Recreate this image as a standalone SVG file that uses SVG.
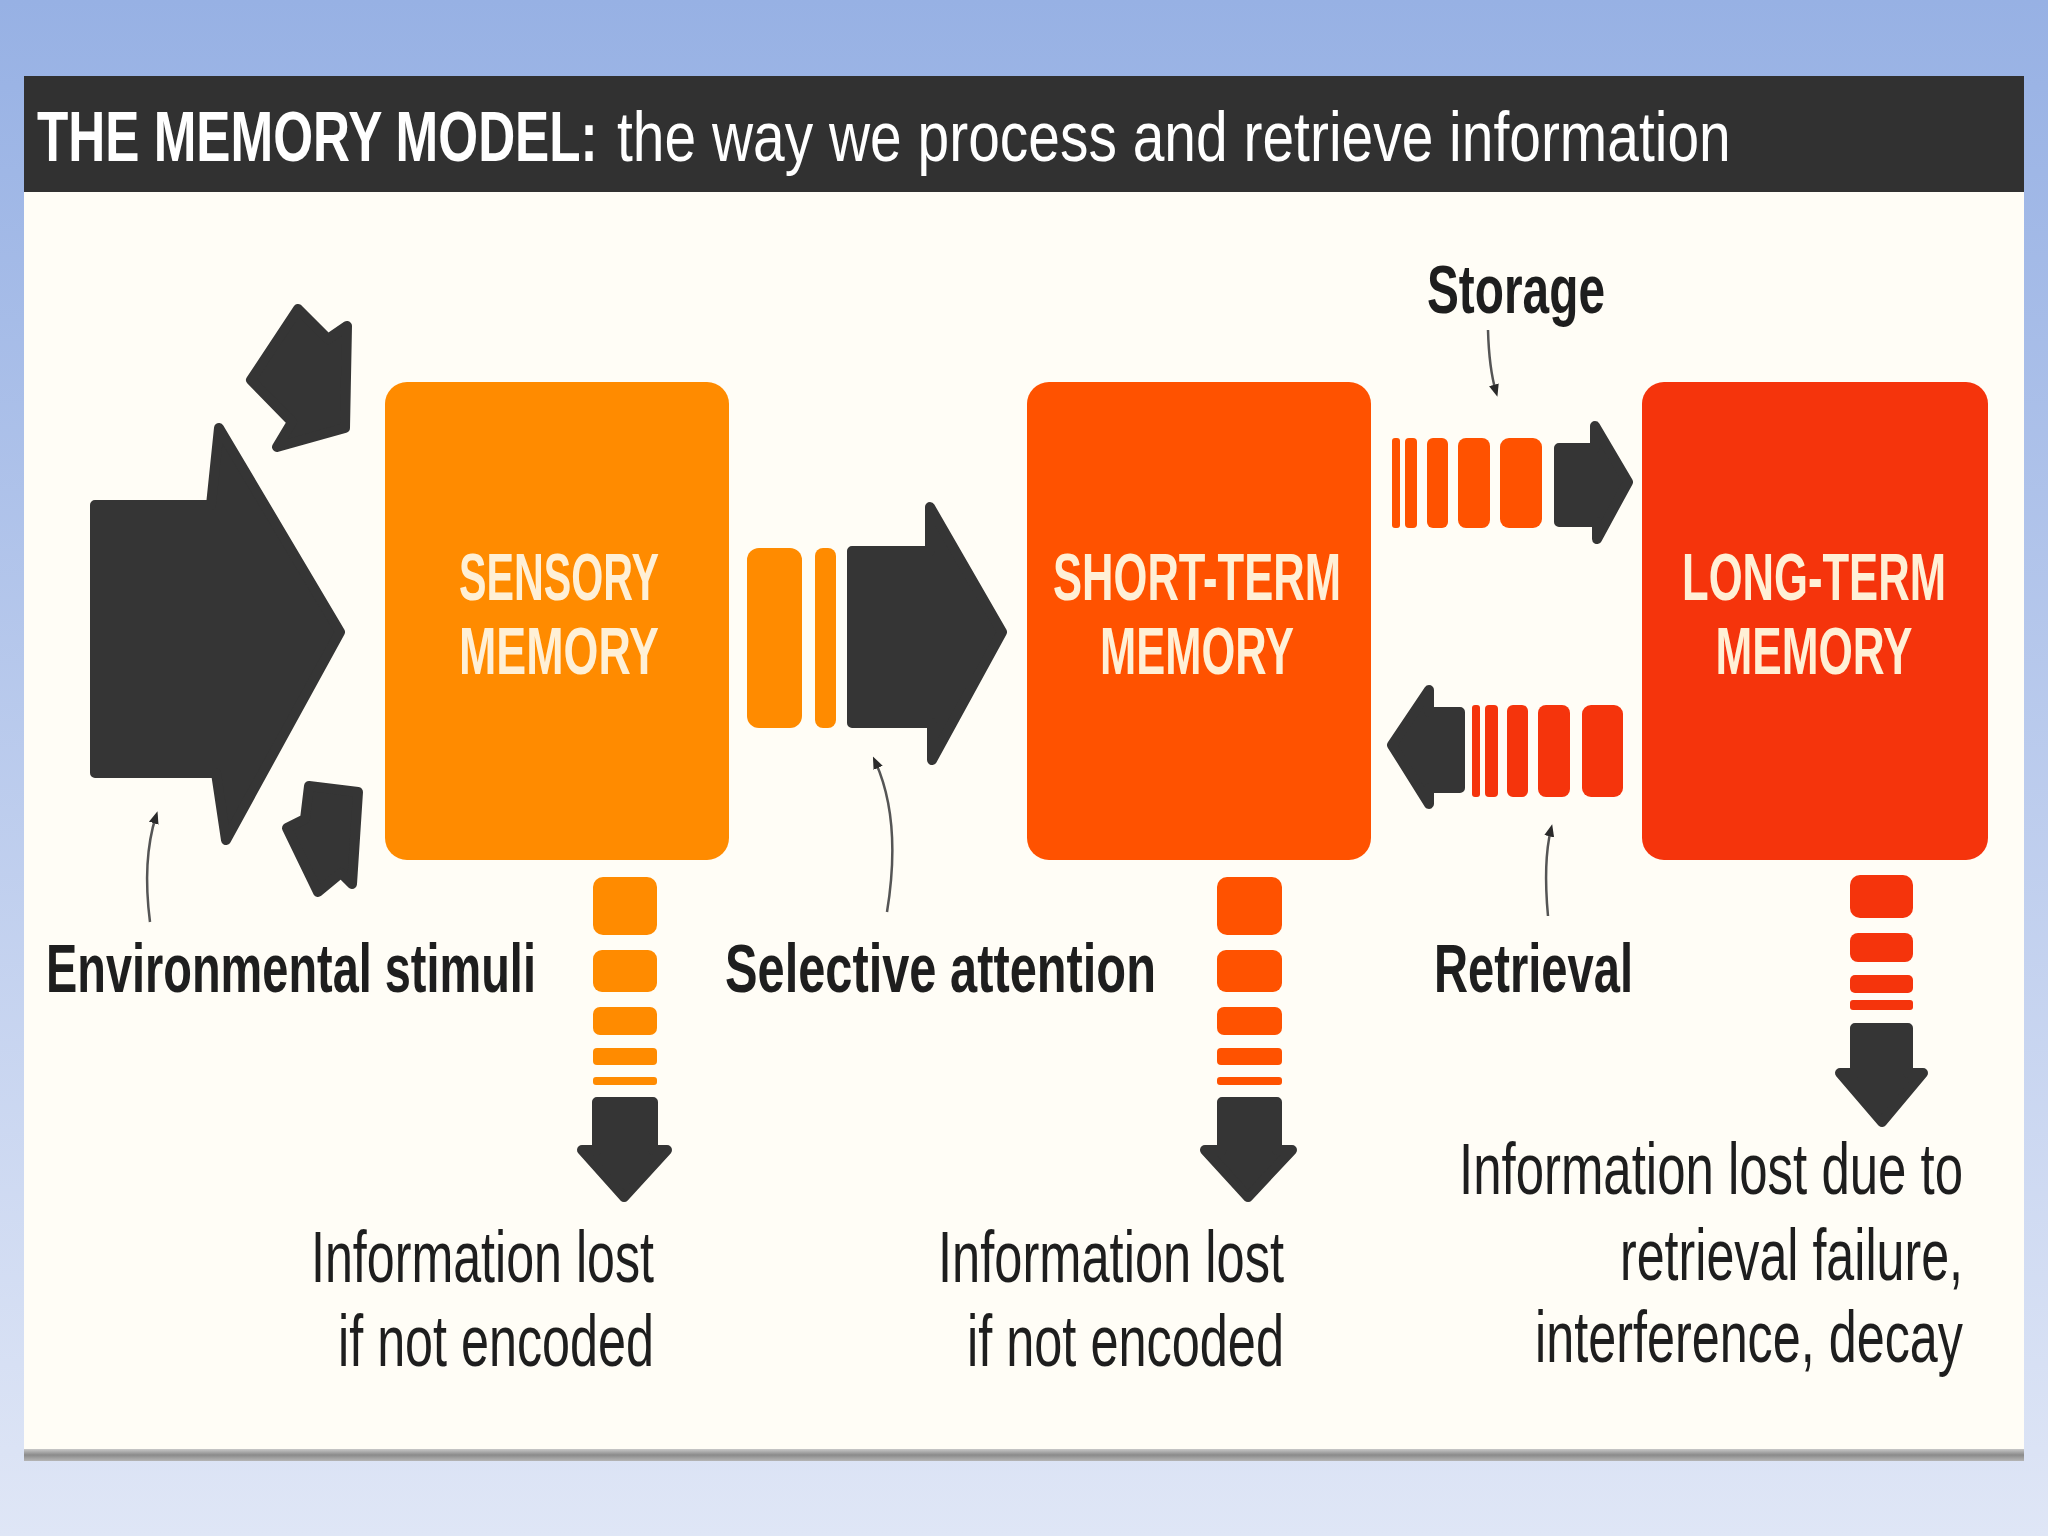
<svg xmlns="http://www.w3.org/2000/svg" width="2048" height="1536" viewBox="0 0 2048 1536">
  <defs>
    <linearGradient id="bg" x1="0" y1="0" x2="0" y2="1">
      <stop offset="0" stop-color="#97b1e4"/>
      <stop offset="1" stop-color="#dfe6f6"/>
    </linearGradient>
    <linearGradient id="rule" x1="0" y1="0" x2="0" y2="1">
      <stop offset="0" stop-color="#c8c8c8"/>
      <stop offset="0.5" stop-color="#8a8a8a"/>
      <stop offset="1" stop-color="#b5b5b5"/>
    </linearGradient>
    <marker id="tip" viewBox="0 0 10 10" refX="6" refY="5" markerWidth="5" markerHeight="5" orient="auto" markerUnits="strokeWidth">
      <path d="M0,1 L10,5 L0,9 Z" fill="#2a2a2a"/>
    </marker>
    <style>
      .dark { fill: #353535; stroke: #353535; stroke-width: 10; stroke-linejoin: round; }
      .org { fill: #ff8b00; }
      .stm { fill: #ff5200; }
      .ltm { fill: #f5340c; }
      .boxtxt { font-family: "Liberation Sans", Arial, sans-serif; font-weight: bold; font-size: 66px; fill: #fff0d6; text-anchor: middle; }
      .lbl { font-family: "Liberation Sans", Arial, sans-serif; font-weight: bold; font-size: 68px; fill: #1e1e1e; }
      .info { font-family: "Liberation Sans", Arial, sans-serif; font-size: 72px; fill: #1e1e1e; text-anchor: end; }
      .title { font-family: "Liberation Sans", Arial, sans-serif; font-size: 70px; fill: #ffffff; }
      .ptr { fill: none; stroke: #555555; stroke-width: 2.5; marker-end: url(#tip); }
    </style>
  </defs>

  <rect x="0" y="0" width="2048" height="1536" fill="url(#bg)"/>

  <g id="panel">
    <rect x="24" y="76" width="2000" height="1384" fill="#fffdf6"/>
    <rect x="24" y="76" width="2000" height="116" fill="#313131"/>
    <rect x="24" y="1449" width="2000" height="12" fill="url(#rule)"/>
    <text class="title" transform="scale(0.73,1)" x="50.7" y="161" font-weight="bold" textLength="768" lengthAdjust="spacingAndGlyphs">THE MEMORY MODEL:</text>
    <text class="title" transform="scale(0.81,1)" x="761.7" y="161" textLength="1375" lengthAdjust="spacingAndGlyphs">the way we process and retrieve information</text>
  </g>

  <g id="sensory-memory">
    <rect class="org" x="385" y="382" width="344" height="478" rx="22"/>
    <text class="boxtxt" transform="scale(0.64,1)" x="873.4" y="600" textLength="312.5" lengthAdjust="spacingAndGlyphs">SENSORY</text>
    <text class="boxtxt" transform="scale(0.64,1)" x="873.4" y="674" textLength="312.5" lengthAdjust="spacingAndGlyphs">MEMORY</text>
  </g>

  <g id="short-term-memory">
    <rect class="stm" x="1027" y="382" width="344" height="478" rx="22"/>
    <text class="boxtxt" transform="scale(0.64,1)" x="1870.3" y="600" textLength="450" lengthAdjust="spacingAndGlyphs">SHORT-TERM</text>
    <text class="boxtxt" transform="scale(0.64,1)" x="1870.3" y="674" textLength="303" lengthAdjust="spacingAndGlyphs">MEMORY</text>
  </g>

  <g id="long-term-memory">
    <rect class="ltm" x="1642" y="382" width="346" height="478" rx="22"/>
    <text class="boxtxt" transform="scale(0.64,1)" x="2834.4" y="600" textLength="412.5" lengthAdjust="spacingAndGlyphs">LONG-TERM</text>
    <text class="boxtxt" transform="scale(0.64,1)" x="2834.4" y="674" textLength="307.8" lengthAdjust="spacingAndGlyphs">MEMORY</text>
  </g>

  <g id="connectors">
    <!-- environmental stimuli arrows -->
    <polygon class="dark" points="95,505 211,505 219,428 340,632 226,840 216,773 95,773"/>
    <polygon class="dark" points="298,309 328,339 347,326 345,428 277,447 292,422 251,380"/>
    <polygon class="dark" points="309,786 358,792 352,884 341,873 318,892 287,828 305,819"/>

    <!-- selective attention -->
    <rect class="org" x="747" y="548" width="55" height="180" rx="12"/>
    <rect class="org" x="815" y="548" width="21" height="180" rx="8"/>
    <path class="dark" d="M852,551 H930 V507 L1002,632 L932,760 V723 H852 Z"/>

    <!-- storage -->
    <rect class="stm" x="1392" y="438" width="8" height="90" rx="3"/>
    <rect class="stm" x="1405" y="438" width="12" height="90" rx="4"/>
    <rect class="stm" x="1427" y="438" width="21" height="90" rx="6"/>
    <rect class="stm" x="1458" y="438" width="32" height="90" rx="8"/>
    <rect class="stm" x="1500" y="438" width="42" height="90" rx="9"/>
    <path class="dark" d="M1559,448 H1595 V426 L1628,482 L1597,539 V522 H1559 Z"/>

    <!-- retrieval -->
    <path class="dark" d="M1460,712 H1429 V690 L1392,745 L1429,804 V788 H1460 Z"/>
    <rect class="ltm" x="1472" y="705" width="8" height="92" rx="3"/>
    <rect class="ltm" x="1485" y="705" width="13" height="92" rx="4"/>
    <rect class="ltm" x="1507" y="705" width="21" height="92" rx="6"/>
    <rect class="ltm" x="1538" y="705" width="32" height="92" rx="8"/>
    <rect class="ltm" x="1582" y="705" width="41" height="92" rx="9"/>

    <!-- sensory loss -->
    <rect class="org" x="593" y="877" width="64" height="58" rx="10"/>
    <rect class="org" x="593" y="950" width="64" height="42" rx="9"/>
    <rect class="org" x="593" y="1007" width="64" height="28" rx="7"/>
    <rect class="org" x="593" y="1048" width="64" height="17" rx="4"/>
    <rect class="org" x="593" y="1077" width="64" height="8" rx="3"/>
    <path class="dark" d="M597,1102 H653 V1150 H667 L624,1197 L582,1150 H597 Z"/>

    <!-- short-term loss -->
    <rect class="stm" x="1217" y="877" width="65" height="58" rx="10"/>
    <rect class="stm" x="1217" y="950" width="65" height="42" rx="9"/>
    <rect class="stm" x="1217" y="1007" width="65" height="28" rx="7"/>
    <rect class="stm" x="1217" y="1048" width="65" height="17" rx="4"/>
    <rect class="stm" x="1217" y="1077" width="65" height="8" rx="3"/>
    <path class="dark" d="M1222,1102 H1277 V1150 H1292 L1248,1197 L1205,1150 H1222 Z"/>

    <!-- long-term loss -->
    <rect class="ltm" x="1850" y="875" width="63" height="43" rx="10"/>
    <rect class="ltm" x="1850" y="933" width="63" height="29" rx="8"/>
    <rect class="ltm" x="1850" y="975" width="63" height="18" rx="5"/>
    <rect class="ltm" x="1850" y="1000" width="63" height="10" rx="3"/>
    <path class="dark" d="M1855,1028 H1908 V1073 H1923 L1882,1122 L1840,1073 H1855 Z"/>

    <!-- label pointers -->
    <path class="ptr" d="M150,922 Q142,860 156,816"/>
    <path class="ptr" d="M887,912 Q902,820 875,761"/>
    <path class="ptr" d="M1488,330 Q1489,368 1496,392"/>
    <path class="ptr" d="M1548,916 Q1543,862 1551,829"/>
  </g>

  <g id="labels">
    <text class="lbl" transform="scale(0.69,1)" x="66.7" y="992" textLength="710" lengthAdjust="spacingAndGlyphs">Environmental stimuli</text>
    <text class="lbl" transform="scale(0.69,1)" x="1050.7" y="992" textLength="624.6" lengthAdjust="spacingAndGlyphs">Selective attention</text>
    <text class="lbl" transform="scale(0.69,1)" x="2078.3" y="992" textLength="288.4" lengthAdjust="spacingAndGlyphs">Retrieval</text>
    <text class="lbl" transform="scale(0.69,1)" x="2068.1" y="313" textLength="258" lengthAdjust="spacingAndGlyphs">Storage</text>

    <text class="info" transform="scale(0.7,1)" x="934.3" y="1282" textLength="490" lengthAdjust="spacingAndGlyphs">Information lost</text>
    <text class="info" transform="scale(0.7,1)" x="934.3" y="1366" textLength="451.4" lengthAdjust="spacingAndGlyphs">if not encoded</text>

    <text class="info" transform="scale(0.7,1)" x="1834.3" y="1282" textLength="494.3" lengthAdjust="spacingAndGlyphs">Information lost</text>
    <text class="info" transform="scale(0.7,1)" x="1834.3" y="1366" textLength="452.9" lengthAdjust="spacingAndGlyphs">if not encoded</text>

    <text class="info" transform="scale(0.7,1)" x="2804.3" y="1194" textLength="720" lengthAdjust="spacingAndGlyphs">Information lost due to</text>
    <text class="info" transform="scale(0.7,1)" x="2804.3" y="1280" textLength="490" lengthAdjust="spacingAndGlyphs">retrieval failure,</text>
    <text class="info" transform="scale(0.7,1)" x="2804.3" y="1362" textLength="611.4" lengthAdjust="spacingAndGlyphs">interference, decay</text>
  </g>
</svg>
